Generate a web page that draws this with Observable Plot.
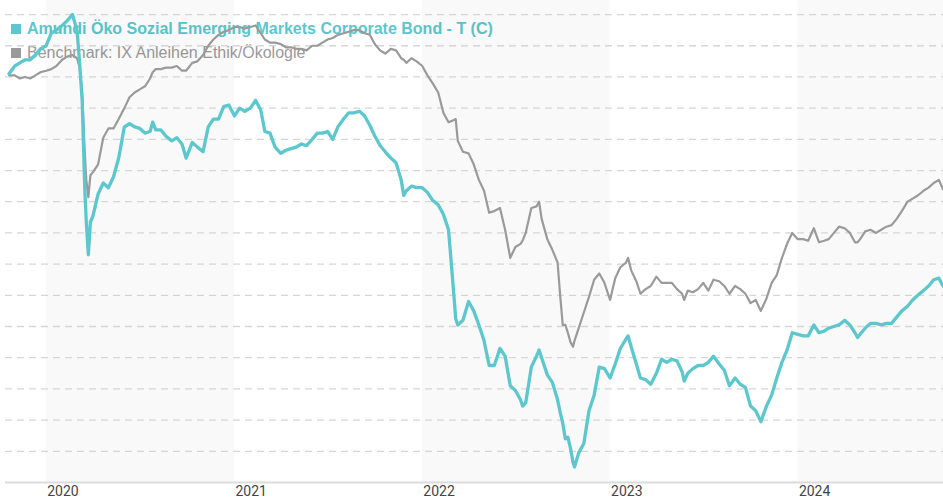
<!DOCTYPE html>
<html><head><meta charset="utf-8">
<script src="https://cdn.jsdelivr.net/npm/d3@7"></script>
<script src="https://cdn.jsdelivr.net/npm/@observablehq/plot@0.6"></script>
<style>
html,body{margin:0;padding:0;background:#fff;}
#wrap{position:relative;width:943px;height:500px;overflow:hidden;}
#legend{position:absolute;left:11px;top:17px;z-index:0;font-family:"Liberation Sans",Arial,sans-serif;font-size:16px;line-height:24px;white-space:nowrap;}
#chart{position:absolute;left:0;top:0;z-index:1;}
.sw{display:inline-block;width:10px;height:10px;margin-right:6px;}
</style></head><body>
<div id="wrap"><div id="legend"></div><div id="chart"></div></div>
<script>
const dates = ["2019-10-21","2019-11-01","2019-11-11","2019-11-21","2019-12-01","2019-12-11","2019-12-21",
"2020-01-01","2020-01-11","2020-01-21","2020-02-01","2020-02-11","2020-02-21","2020-03-01","2020-03-06","2020-03-11","2020-03-16","2020-03-19","2020-03-23","2020-03-27",
"2020-04-01","2020-04-11","2020-04-21","2020-05-01","2020-05-11","2020-05-21","2020-06-01","2020-06-11","2020-06-21","2020-07-01","2020-07-11","2020-07-21","2020-07-26",
"2020-08-01","2020-08-11","2020-08-21","2020-09-01","2020-09-11","2020-09-21","2020-09-29","2020-10-11","2020-10-21","2020-11-01","2020-11-11","2020-11-21","2020-12-01","2020-12-11","2020-12-21",
"2021-01-01","2021-01-11","2021-01-21","2021-02-01","2021-02-11","2021-02-21","2021-03-01","2021-03-11","2021-03-21","2021-04-01","2021-04-11","2021-04-21","2021-05-01","2021-05-11","2021-05-21",
"2021-06-01","2021-06-11","2021-06-21","2021-07-01","2021-07-11","2021-07-21","2021-08-01","2021-08-11","2021-08-21","2021-09-01","2021-09-11","2021-09-21","2021-10-01","2021-10-11","2021-10-21",
"2021-11-01","2021-11-11","2021-11-21","2021-11-26","2021-12-01","2021-12-11","2021-12-21",
"2022-01-01","2022-01-11","2022-01-21","2022-02-01","2022-02-11","2022-02-21","2022-03-01","2022-03-07","2022-03-11","2022-03-21","2022-04-01","2022-04-11","2022-04-21",
"2022-05-01","2022-05-11","2022-05-21","2022-06-01","2022-06-11","2022-06-21","2022-07-01","2022-07-11","2022-07-15","2022-07-21","2022-08-01","2022-08-11","2022-08-16","2022-08-21",
"2022-09-01","2022-09-11","2022-09-21","2022-09-26","2022-10-01","2022-10-06","2022-10-11","2022-10-16","2022-10-21","2022-10-24","2022-11-01","2022-11-11","2022-11-21","2022-12-01","2022-12-11","2022-12-21",
"2023-01-01","2023-01-11","2023-01-21","2023-02-01","2023-02-05","2023-02-11","2023-02-21","2023-03-01","2023-03-11","2023-03-21","2023-04-01","2023-04-11","2023-04-21",
"2023-05-01","2023-05-11","2023-05-21","2023-05-25","2023-06-01","2023-06-11","2023-06-21","2023-07-01","2023-07-11","2023-07-21","2023-08-01","2023-08-11","2023-08-21",
"2023-09-01","2023-09-11","2023-09-21","2023-10-01","2023-10-11","2023-10-21","2023-11-01","2023-11-11","2023-11-21","2023-12-01","2023-12-11","2023-12-21",
"2024-01-01","2024-01-11","2024-01-21","2024-02-01","2024-02-11","2024-02-21","2024-03-01","2024-03-11","2024-03-21","2024-04-01","2024-04-11","2024-04-21","2024-04-26",
"2024-05-01","2024-05-11","2024-05-21","2024-06-01","2024-06-11","2024-06-21","2024-07-01","2024-07-11","2024-07-21","2024-08-01","2024-08-11","2024-08-21",
"2024-09-01","2024-09-11","2024-09-21","2024-10-01","2024-10-09"];

const fund = [98.2,98.7,98.9,99.1,99.1,99.4,99.8,
100.0,100.8,101.0,101.3,101.6,102.0,101.0,98.9,96.5,90.9,88.7,86.6,88.7,
89.1,90.5,91.2,90.9,91.6,92.8,94.8,95.0,94.8,94.7,94.4,94.5,95.1,
94.6,94.6,94.2,93.9,94.1,93.7,92.8,93.8,93.5,93.2,94.8,95.3,95.3,96.1,96.2,
95.5,96.0,95.8,96.0,96.5,95.9,94.5,94.4,93.5,93.1,93.3,93.4,93.5,93.7,93.6,
94.0,94.4,94.4,94.5,94.0,94.8,95.3,95.7,95.7,95.8,95.5,94.9,94.2,93.6,93.2,
92.8,92.5,91.4,90.4,90.7,91.0,90.9,
90.9,90.6,90.1,89.8,89.2,88.2,85.0,82.5,82.1,82.4,83.6,83.0,82.1,
81.1,79.5,79.5,80.6,80.1,78.2,77.9,77.3,76.9,77.1,79.4,80.1,80.5,80.0,
78.9,78.4,77.3,76.5,75.8,74.8,74.9,74.2,73.3,73.0,73.9,74.5,76.6,77.6,79.4,79.3,
78.7,79.6,80.6,81.2,81.4,80.7,79.6,78.7,78.6,78.3,79.0,79.9,79.7,
79.9,79.8,79.1,78.5,79.0,79.3,79.5,79.5,79.7,80.1,79.6,79.2,78.2,
78.7,78.3,78.1,76.9,76.6,75.9,76.9,77.6,78.7,79.7,80.5,81.6,
81.5,81.4,81.4,82.1,81.6,81.7,81.9,82.0,82.1,82.4,82.1,81.6,81.3,
81.5,81.9,82.2,82.2,82.1,82.2,82.2,82.6,83.0,83.3,83.7,84.0,
84.3,84.6,85.0,85.1,84.6];

const bench = [98.1,98.1,97.9,98.0,97.9,98.1,98.3,
98.4,98.5,98.7,99.1,99.3,99.4,99.2,98.6,97.0,93.2,91.4,90.3,91.7,
91.9,92.4,94.1,94.7,94.7,95.3,96.0,96.7,97.0,97.2,97.4,97.9,98.3,
98.5,98.5,98.6,98.6,98.7,98.4,98.4,98.9,99.0,99.4,100.0,100.4,100.7,100.9,101.0,
101.2,101.2,101.1,101.2,101.3,100.8,100.4,100.2,100.2,100.1,99.9,99.9,99.8,99.8,99.7,
100.0,100.0,100.2,100.4,100.5,100.7,100.8,100.9,101.0,101.0,100.8,100.7,100.1,99.7,99.5,
99.8,99.7,99.2,99.1,98.9,99.2,99.0,
98.7,98.1,97.6,97.0,95.7,95.1,95.2,95.3,93.9,93.2,93.1,92.4,91.4,
90.7,89.3,89.4,89.6,88.2,86.4,87.1,87.3,87.5,88.0,89.6,89.7,90.0,88.9,
87.6,86.9,86.1,84.0,82.1,82.1,81.6,81.0,80.7,81.1,81.9,82.9,83.9,85.0,85.4,84.8,
83.7,85.1,85.8,86.1,86.4,85.6,84.9,84.1,84.4,84.6,85.2,84.8,84.8,
84.8,84.4,84.1,83.7,84.3,84.2,84.4,84.8,84.3,85.0,84.9,84.6,84.1,
84.6,84.4,84.1,83.5,83.7,83.0,83.8,84.8,85.3,86.4,87.3,88.0,
87.6,87.6,87.5,88.3,87.4,87.5,87.6,88.0,88.4,88.3,88.0,87.4,87.4,
87.6,88.1,88.2,88.0,88.2,88.4,88.5,88.9,89.4,90.0,90.2,90.4,
90.7,90.9,91.2,91.4,90.8];

const seriesNames = ["Amundi Öko Sozial Emerging Markets Corporate Bond - T (C)", "Benchmark: IX Anleihen Ethik/Ökologie"];
const seriesColors = ["#5cc7cd", "#9a9a9a"];
const yearTicks = ["2020-01-01","2021-01-01","2022-01-01","2023-01-01","2024-01-01"];
const bandStarts = ["2020-01-01","2022-01-01","2024-01-01"];
const bandEnds = ["2021-01-01","2023-01-01","2025-01-01"];
const xDomain = ["2019-10-14","2024-10-10"];
const yDomain = [72, 102.9];
const gridValues = [74,76,78,80,82,84,86,88,90,92,94,96,98,100,102];

const parse = d3.utcParse("%Y-%m-%d");
const data = dates.map((d, i) => ({date: parse(d), fund: fund[i], bench: bench[i]}));
const bands = bandStarts.map((s, i) => ({x1: parse(s), x2: parse(bandEnds[i])}));

const chart = Plot.plot({
  width: 943, height: 500,
  marginTop: 0, marginBottom: 18, marginLeft: 5, marginRight: 0,
  style: {background: "transparent", fontFamily: "Roboto, 'DejaVu Sans', sans-serif", fontSize: "14px", color: "#444"},
  x: {type: "utc", domain: xDomain.map(parse), label: null},
  y: {domain: yDomain, axis: null},
  marks: [
    Plot.rect(bands, {x1: "x1", x2: "x2", fill: "#000", fillOpacity: 0.022, clip: true}),
    Plot.ruleY(gridValues, {stroke: "#d6d6d6", strokeWidth: 1.3, strokeDasharray: "7,5"}),
    Plot.ruleY([yDomain[0]], {stroke: "#dcdcdc", strokeWidth: 2}),
    Plot.axisX(yearTicks.map(parse), {tickSize: 0, tickPadding: 4, textAnchor: "start", dx: 1, tickFormat: d3.utcFormat("%Y"), fill: "#444", label: null}),
    Plot.line(data, {x: "date", y: "bench", stroke: seriesColors[1], strokeWidth: 2.2, strokeLinejoin: "round"}),
    Plot.line(data, {x: "date", y: "fund", stroke: seriesColors[0], strokeWidth: 3.3, strokeLinejoin: "round"})
  ]
});
document.getElementById("chart").appendChild(chart);

const legend = document.getElementById("legend");
seriesNames.forEach((name, i) => {
  const row = document.createElement("div");
  row.style.color = seriesColors[i];
  row.style.fontWeight = i === 0 ? "bold" : "normal";
  const sw = document.createElement("span");
  sw.className = "sw";
  sw.style.background = seriesColors[i];
  row.appendChild(sw);
  row.appendChild(document.createTextNode(name));
  legend.appendChild(row);
});
</script>
</body></html>
